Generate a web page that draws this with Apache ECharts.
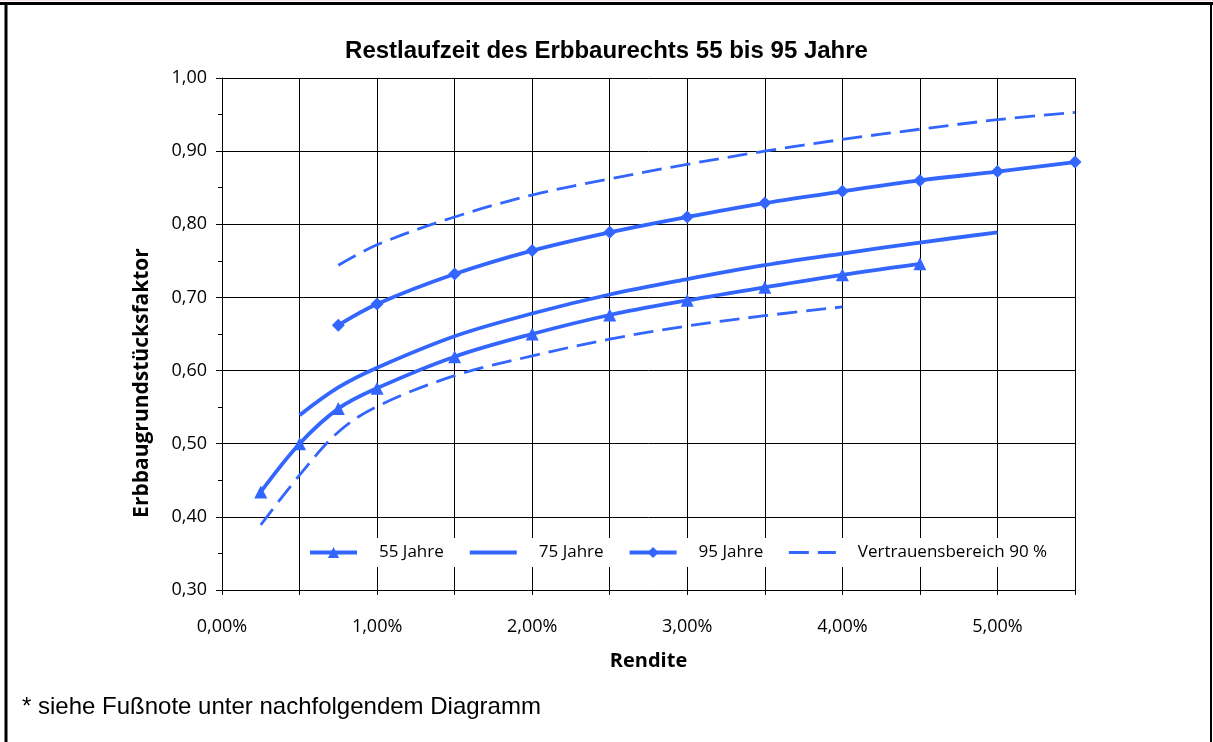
<!DOCTYPE html>
<html><head><meta charset="utf-8">
<script src="https://cdn.jsdelivr.net/npm/echarts@6/dist/echarts.min.js"></script>
<style>html,body{margin:0;padding:0;background:#fff}#c{width:1213px;height:742px}</style>
</head><body><div id="c"></div>
<script>
// Rendite (%) and Erbbaugrundstücksfaktor values
var x55 = [0.25, 0.5, 0.75, 1, 1.5, 2, 2.5, 3, 3.5, 4, 4.5];
var y55 = [0.434, 0.500, 0.548, 0.576, 0.619, 0.650, 0.676, 0.696, 0.714, 0.731, 0.746];
var x75 = [0.5, 0.75, 1, 1.5, 2, 2.5, 3, 3.5, 4, 4.5, 5];
var y75 = [0.539, 0.577, 0.604, 0.647, 0.678, 0.704, 0.725, 0.744, 0.760, 0.775, 0.789];
var x95 = [0.75, 1, 1.5, 2, 2.5, 3, 3.5, 4, 4.5, 5, 5.5];
var y95 = [0.662, 0.691, 0.732, 0.764, 0.789, 0.810, 0.829, 0.845, 0.860, 0.872, 0.885];
var xUpper = [0.75, 1, 1.5, 2, 2.5, 3, 3.5, 4, 4.5, 5, 5.5];
var yUpper = [0.744, 0.772, 0.810, 0.840, 0.862, 0.882, 0.900, 0.916, 0.930, 0.943, 0.953];
var xLower = [0.25, 0.5, 0.75, 1, 1.5, 2, 2.5, 3, 3.5, 4];
var yLower = [0.389, 0.457, 0.516, 0.551, 0.593, 0.620, 0.643, 0.661, 0.675, 0.687];
var seriesNames = ['55 Jahre', '75 Jahre', '95 Jahre', 'Vertrauensbereich 90 %'];
var titleText = 'Restlaufzeit des Erbbaurechts 55 bis 95 Jahre';
var xAxisTitle = 'Rendite';
var yAxisTitle = 'Erbbaugrundstücksfaktor';
var footnote = '* siehe Fußnote unter nachfolgendem Diagramm';

function pairs(xs, ys) { return xs.map(function (x, i) { return [x, ys[i]]; }); }
var BLUE = '#3366ff';
var FONT = '"Open Sans", "Noto Sans", sans-serif';
var ARIAL = '"Liberation Sans", Arial, sans-serif';

var chart = echarts.init(document.getElementById('c'), null, {renderer: 'canvas'});
chart.setOption({
  animation: false,
  backgroundColor: '#fff',
  title: {
    text: titleText, left: 'center', top: 34,
    textStyle: {fontFamily: ARIAL, fontWeight: 'bold', fontSize: 24, color: '#000'}
  },
  grid: {left: 222, right: 138, top: 78, bottom: 152},
  legend: {
    data: [
      {name: seriesNames[0]},
      {name: seriesNames[1], itemStyle: {opacity: 0}},
      {name: seriesNames[2]},
      {name: seriesNames[3], itemStyle: {opacity: 0}, lineStyle: {width: 3}}
    ],
    left: 300, top: 538,
    backgroundColor: '#fff',
    padding: [6, 8, 6, 8],
    itemWidth: 47, itemHeight: 14, itemGap: 24,
    lineStyle: {width: 4},
    textStyle: {fontFamily: FONT, fontSize: 17, color: '#000', padding: [0, 0, 0, 17]}
  },
  xAxis: {
    type: 'value', min: 0, max: 5.5, interval: 0.5,
    name: xAxisTitle, nameLocation: 'middle', nameGap: 61,
    nameTextStyle: {fontFamily: FONT, fontWeight: 'bold', fontSize: 20, color: '#000'},
    axisLine: {show: true, lineStyle: {color: '#000', width: 1}},
    axisTick: {show: true, length: 5, lineStyle: {color: '#000'}},
    axisLabel: {
      fontFamily: FONT, fontSize: 18, color: '#000', margin: 28, showMaxLabel: true,
      formatter: function (v) { return Math.abs(v - Math.round(v)) < 1e-9 ? v.toFixed(2).replace('.', ',') + '%' : ''; }
    },
    splitLine: {show: true, lineStyle: {color: '#000', width: 1}}
  },
  yAxis: {
    type: 'value', min: 0.3, max: 1.0, interval: 0.1,
    axisLine: {show: true, lineStyle: {color: '#000', width: 1}},
    axisTick: {show: true, length: 6, lineStyle: {color: '#000'}},
    minorTick: {show: true, splitNumber: 2, length: 4, lineStyle: {color: '#000'}},
    axisLabel: {
      fontFamily: FONT, fontSize: 18, color: '#000', margin: 15,
      formatter: function (v) { return v.toFixed(2).replace('.', ','); }
    },
    splitLine: {show: true, lineStyle: {color: '#000', width: 1}}
  },
  series: [
    {name: seriesNames[0], type: 'line', data: pairs(x55, y55), smooth: 0.35,
     symbol: 'triangle', symbolSize: 13, showAllSymbol: true,
     lineStyle: {color: BLUE, width: 3.8}, itemStyle: {color: BLUE}, z: 5},
    {name: seriesNames[1], type: 'line', data: pairs(x75, y75), smooth: 0.35,
     symbol: 'none', lineStyle: {color: BLUE, width: 3.8}, itemStyle: {color: BLUE}, z: 5},
    {name: seriesNames[2], type: 'line', data: pairs(x95, y95), smooth: 0.35,
     symbol: 'diamond', symbolSize: 13, showAllSymbol: true,
     lineStyle: {color: BLUE, width: 3.8}, itemStyle: {color: BLUE}, z: 5},
    {name: seriesNames[3], type: 'line', data: pairs(xUpper, yUpper), smooth: 0.35,
     symbol: 'none', lineStyle: {color: BLUE, width: 2.8, type: [20, 9]}, itemStyle: {color: BLUE}, z: 4},
    {name: seriesNames[3], type: 'line', data: pairs(xLower, yLower), smooth: 0.35,
     symbol: 'none', lineStyle: {color: BLUE, width: 2.8, type: [20, 9]}, itemStyle: {color: BLUE}, z: 4}
  ],
  graphic: [
    {type: 'line', shape: {x1: 0, y1: 0.5, x2: 1213, y2: 0.5}, style: {stroke: '#fde2e2', lineWidth: 1}},
    {type: 'line', shape: {x1: 0, y1: 3.5, x2: 1213, y2: 3.5}, style: {stroke: '#000', lineWidth: 3}},
    {type: 'line', shape: {x1: 6, y1: 2, x2: 6, y2: 742}, style: {stroke: '#000', lineWidth: 3}},
    {type: 'line', shape: {x1: 1211, y1: 2, x2: 1211, y2: 742}, style: {stroke: '#000', lineWidth: 2}},
    {type: 'text', x: 142, y: 383, rotation: Math.PI / 2,
     style: {text: yAxisTitle, font: 'bold 21px ' + FONT, fill: '#000', textAlign: 'center', textVerticalAlign: 'middle'}},
    {type: 'text', x: 22, y: 707,
     style: {text: footnote, font: '24px ' + ARIAL, fill: '#000', textAlign: 'left', textVerticalAlign: 'middle'}}
  ]
});
</script>
</body></html>
